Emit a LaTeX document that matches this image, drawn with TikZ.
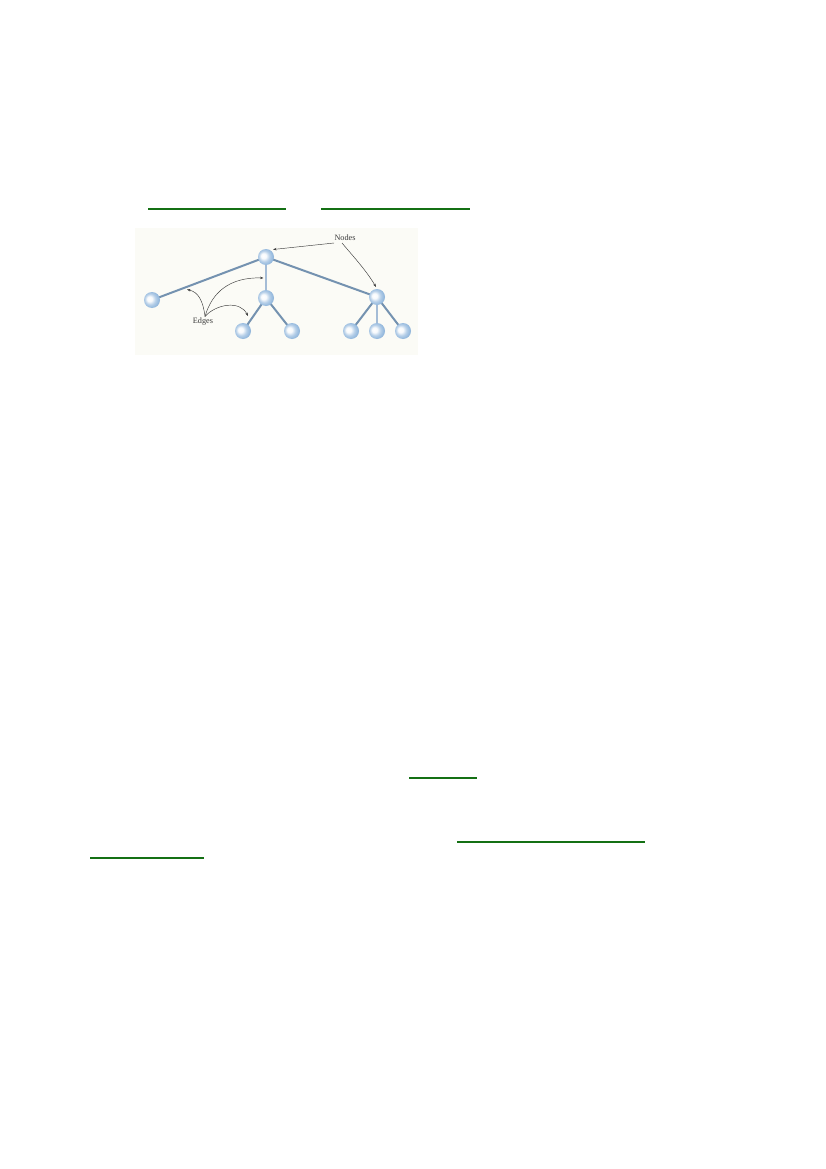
\documentclass[tikz,border=0pt]{standalone}
\usepackage{fontspec}
\setmainfont{Liberation Serif}
\usetikzlibrary{arrows.meta}
\definecolor{linkgreen}{RGB}{20,112,20}
\definecolor{panelbg}{RGB}{251,251,246}
\definecolor{edgeblue}{RGB}{116,146,176}
\definecolor{edgelight}{RGB}{164,188,214}
\definecolor{nodeblue}{RGB}{150,186,222}
\definecolor{labelgray}{RGB}{60,60,60}
\pgfdeclareradialshading{sphereshade}{\pgfpoint{-9bp}{4bp}}{%
  color(0bp)=(white); color(8bp)=(white!92!nodeblue); color(17bp)=(nodeblue!70!white);
  color(25bp)=(nodeblue); color(50bp)=(nodeblue!80!black)}
\pgfdeclarelayer{panellayer}
\pgfdeclarelayer{edgelayer}
\pgfsetlayers{panellayer,edgelayer,main}
\tikzset{
  treenode/.style={circle, minimum size=16pt, inner sep=0pt, shading=sphereshade},
  treeedge/.style={line width=2pt, edgeblue},
  lightedge/.style={line width=2pt, edgelight},
  callout/.style={line width=0.45pt, labelgray, -{Stealth[length=3.5pt,width=2.5pt]}},
  calloutlabel/.style={font=\fontsize{8.2}{9}\selectfont, text=labelgray, inner sep=0pt},
  underline/.style={line width=2pt, linkgreen}
}
\begin{document}
\begin{tikzpicture}[x=1pt,y=-1pt]
\useasboundingbox (0,0) rectangle (826,1169);
% link underlines
\draw[underline] (148,209) -- (286,209);
\draw[underline] (321,209) -- (470,209);
\draw[underline] (409,778) -- (477,778);
\draw[underline] (457,842) -- (645,842);
\draw[underline] (90,858) -- (204,858);
% panel
\begin{pgfonlayer}{panellayer}
\fill[panelbg] (135,228) rectangle (418,355);
\end{pgfonlayer}
% tree nodes
\node[treenode] (root) at (266,257) {};
\node[treenode] (L) at (152,300) {};
\node[treenode] (M) at (266,298) {};
\node[treenode] (R) at (377,297) {};
\node[treenode] (M1) at (243,331) {};
\node[treenode] (M2) at (292,331) {};
\node[treenode] (R1) at (351,331) {};
\node[treenode] (R2) at (377,331) {};
\node[treenode] (R3) at (403,331) {};
% edges
\begin{pgfonlayer}{edgelayer}
\draw[treeedge] (root.center) -- (L.center);
\draw[lightedge] (root.center) -- (M.center);
\draw[treeedge] (root.center) -- (R.center);
\draw[treeedge] (M.center) -- (M1.center);
\draw[treeedge] (M.center) -- (M2.center);
\draw[treeedge] (R.center) -- (R1.center);
\draw[lightedge] (R.center) -- (R2.center);
\draw[treeedge] (R.center) -- (R3.center);
\end{pgfonlayer}
% labels
\node[calloutlabel] (nodeslabel) at (345,238) {Nodes};
\node[calloutlabel] (edgeslabel) at (203,322) {Edges};
\coordinate (nodesA) at (334,243);
\coordinate (nodesB) at (342,243);
\coordinate (edgesO) at (205,316.5);
\coordinate (tipRoot) at (273,249.5);
\coordinate (tipR) at (376,287);
\coordinate (tipL) at (187,289.5);
\coordinate (tipRM) at (263.5,278);
\coordinate (tipM1) at (248,316);
\draw[callout] (nodesA) -- (tipRoot);
\draw[callout] (nodesB) .. controls (352,255) and (366,270) .. (tipR);
\draw[callout] (edgesO) .. controls (203,300) and (198,292) .. (tipL);
\draw[callout] (edgesO) .. controls (212,292) and (230,277) .. (tipRM);
\draw[callout] (edgesO) .. controls (216,304) and (240,300) .. (tipM1);
\end{tikzpicture}
\end{document}
